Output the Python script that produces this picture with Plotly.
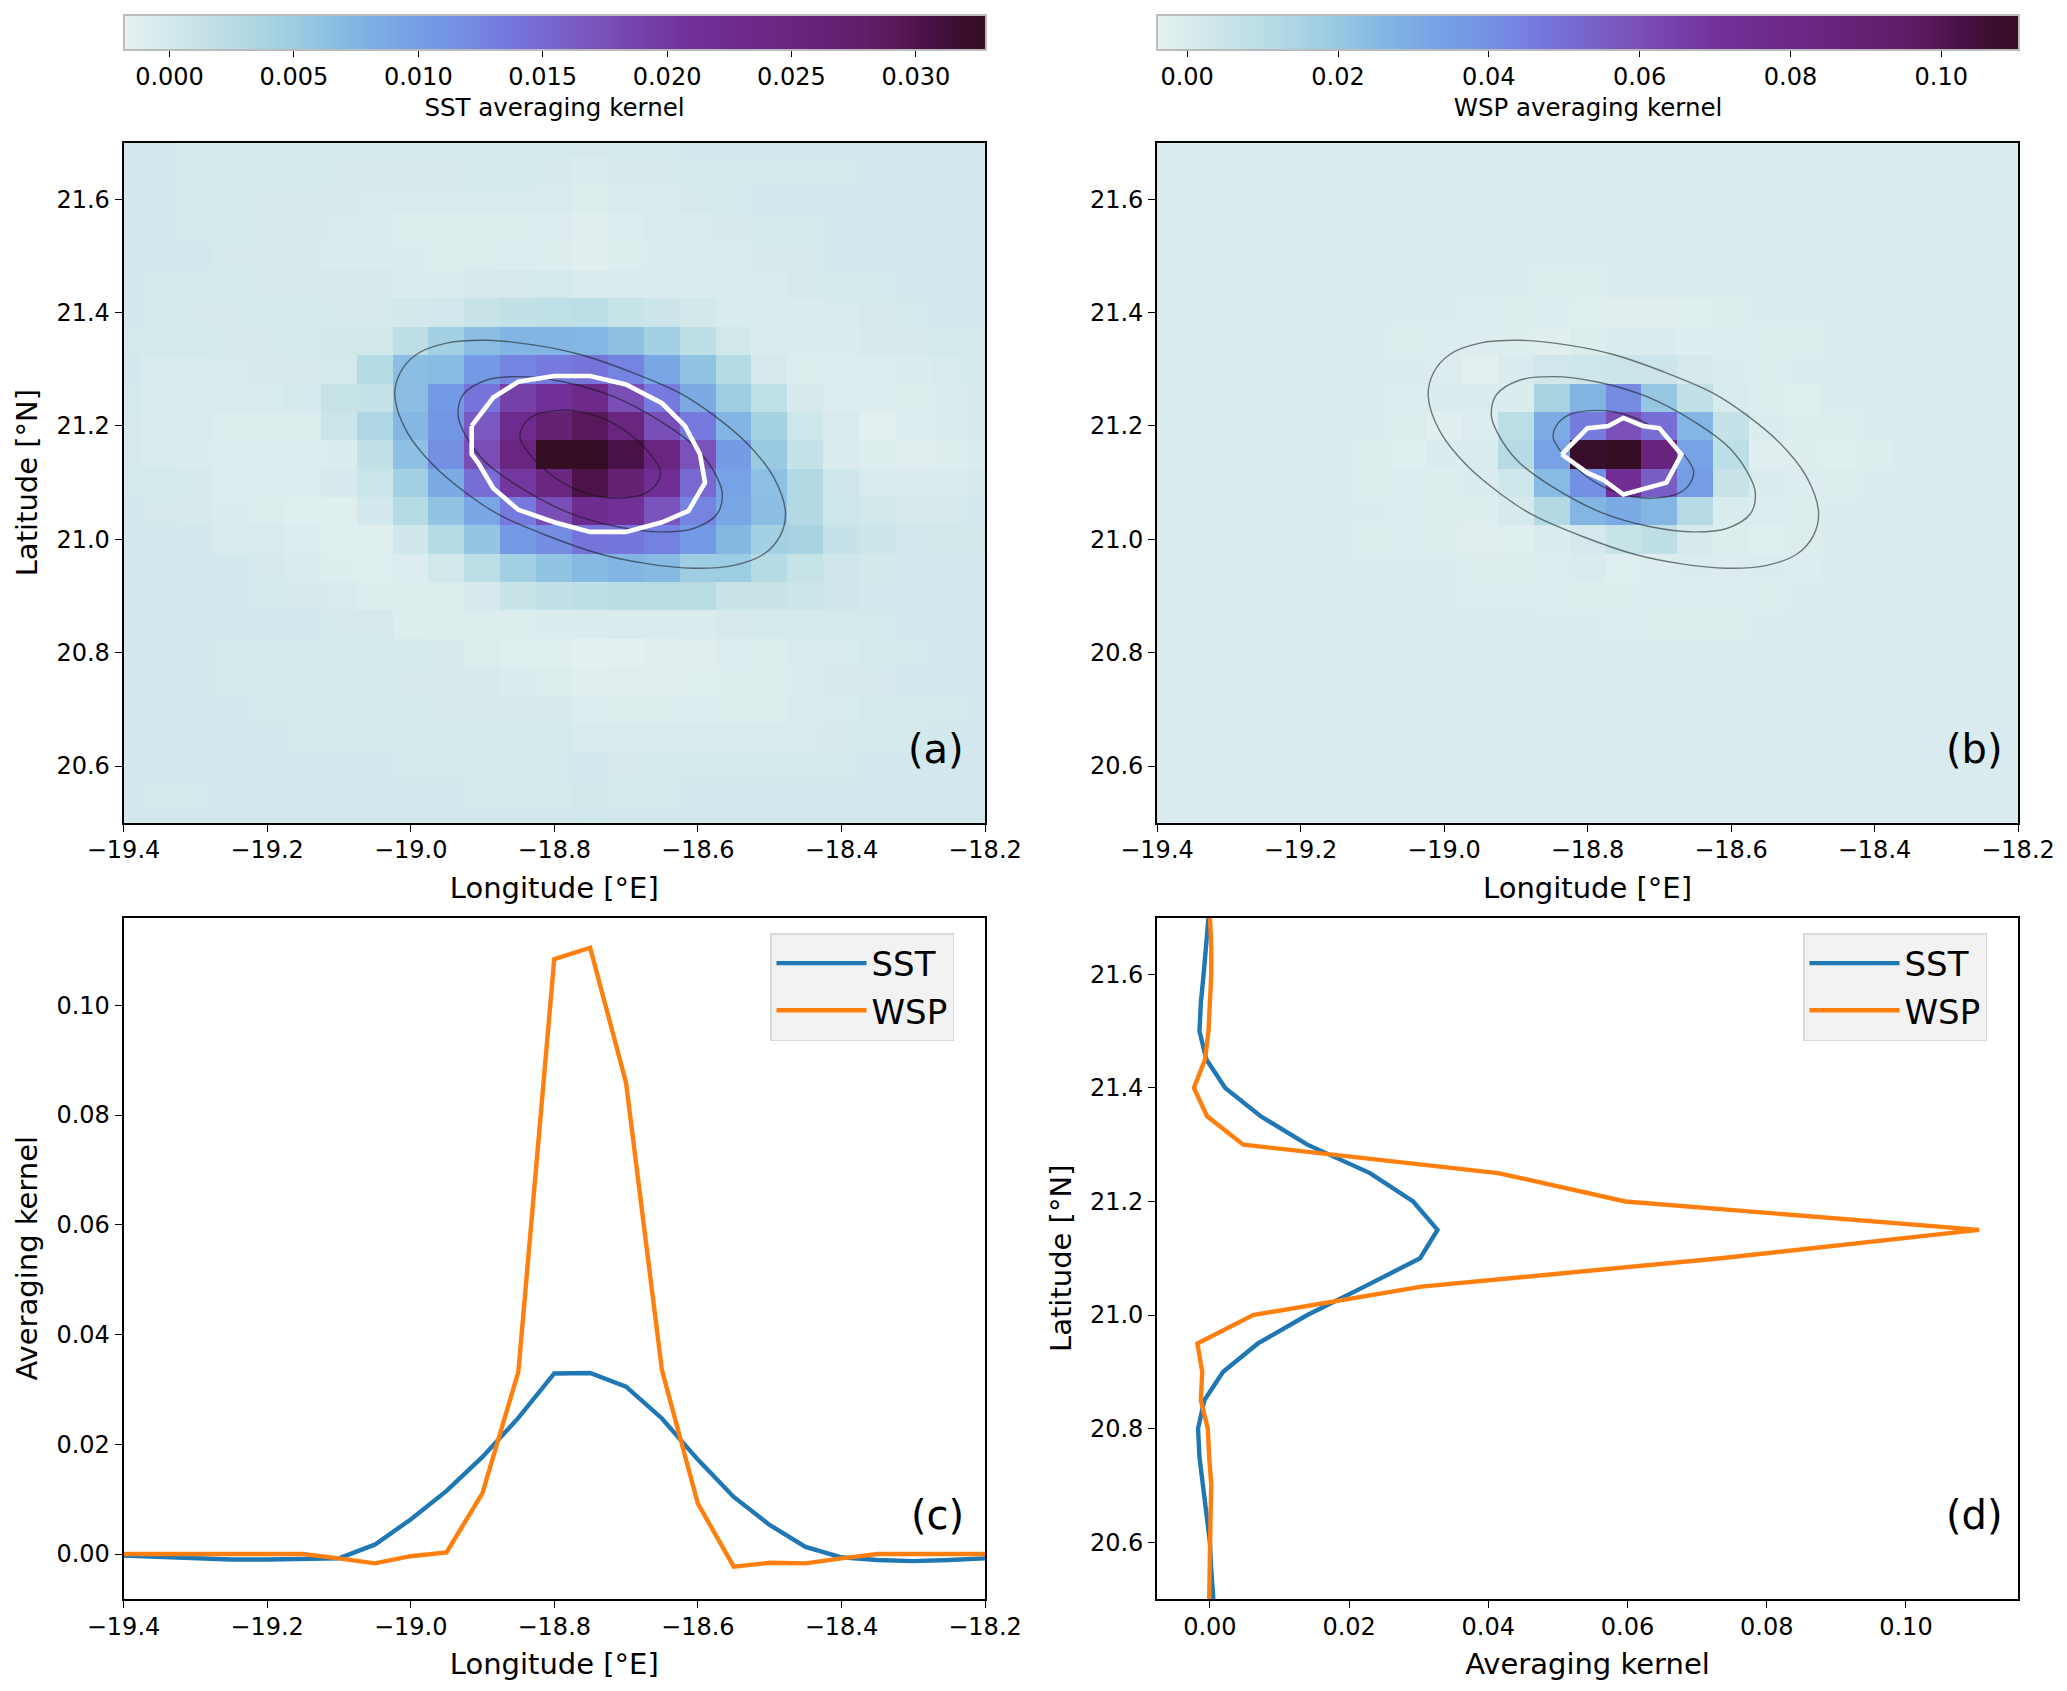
import plotly.graph_objects as go

W, H = 2067, 1691
PAGE_MARGIN = 8  # the page body offsets the figure by this many pixels
FW, FH = W - 2 * PAGE_MARGIN, H - 2 * PAGE_MARGIN

lon = [-19.4, -19.35, -19.3, -19.25, -19.2, -19.15, -19.1, -19.05, -19.0, -18.95, -18.9, -18.85, -18.8,
       -18.75, -18.7, -18.65, -18.6, -18.55, -18.5, -18.45, -18.4, -18.35, -18.3, -18.25, -18.2]
lat = [21.7, 21.65, 21.6, 21.55, 21.5, 21.45, 21.4, 21.35, 21.3, 21.25, 21.2, 21.15, 21.1,
       21.05, 21.0, 20.95, 20.9, 20.85, 20.8, 20.75, 20.7, 20.65, 20.6, 20.55, 20.5]

sst_kernel = [
 [0,0,-.0001,-.0001,-.0001,-.0001,-.0001,-.0001,-.0001,-.0001,-.0001,-.0001,-.0001,-.0002,-.0001,-.0001,0,0,0,0,0,0,0,0,0],
 [0,0,-.0001,-.0001,-.0001,-.0001,-.0003,-.0003,-.0003,-.0003,-.0001,-.0001,-.0003,-.0005,-.0003,-.0002,-.0001,-.0001,-.0001,-.0001,-.0001,0,0,0,0],
 [0,0,-.0001,-.0001,-.0003,-.0003,-.0003,-.0004,-.0004,-.0004,-.0004,-.0004,-.0005,-.0009,-.0006,-.0005,-.0002,-.0001,0,0,0,0,0,0,0],
 [0,0,-.0001,-.0001,-.0002,-.0003,-.0004,-.0004,-.0009,-.0009,-.0009,-.0009,-.001,-.0013,-.001,-.0004,-.0004,-.0003,-.0001,-.0001,0,0,0,0,0],
 [0,0,0,-.0003,-.0003,-.0003,-.0006,-.0007,-.0007,-.0009,-.0009,-.001,-.0011,-.0015,-.0009,-.0008,-.0008,-.0005,-.0003,-.0002,0,0,0,0,0],
 [0,-.0001,-.0001,-.0001,-.0002,-.0002,-.0002,-.0002,-.0008,-.0007,-.0003,-.0002,-.0001,-.0005,-.0004,-.0006,-.0007,-.0007,-.0006,-.0003,-.0001,-.0001,0,0,0],
 [0,-.0001,-.0003,-.0003,-.0001,-.0001,-.0003,-.0003,.0001,.0003,.001,.0017,.0018,.0022,.0012,.0007,.0001,-.0005,-.0007,-.0007,-.0004,-.0002,-.0001,0,0],
 [-.0001,-.0001,-.0001,-.0003,-.0003,-.0001,.0001,.0002,.002,.0045,.0065,.0075,.0075,.0073,.0062,.0045,.002,.0002,-.0006,-.0007,-.0007,-.0003,-.0002,-.0001,-.0001],
 [0,-.0004,-.0004,-.0004,-.0002,-.0002,-.0001,.0028,.0065,.0068,.0105,.0125,.0135,.014,.0125,.009,.006,.0028,-.0002,-.0009,-.001,-.001,-.0007,-.0004,-.0001],
 [-.0001,-.0004,-.0004,-.0005,-.0004,-.0001,.0012,.0014,.0065,.0105,.014,.019,.021,.023,.0175,.0135,.0085,.0048,.0018,-.0003,-.001,-.001,-.0009,-.0008,-.0003],
 [-.0002,-.0005,-.0005,-.0009,-.0009,-.0009,.0008,.0035,.0072,.0108,.0165,.0225,.0265,.0292,.025,.0175,.0135,.0075,.0042,.0006,-.0006,-.0016,-.001,-.0008,-.0003],
 [-.0003,-.0005,-.0008,-.001,-.001,-.001,-.0008,.0017,.0063,.0115,.0177,.0248,.0329,.033,.0305,.0247,.0172,.0104,.0053,.0013,-.0006,-.0011,-.0013,-.0011,-.0008],
 [-.0001,-.0001,-.0003,-.001,-.001,-.001,-.0003,.0008,.0045,.0085,.0145,.02,.0245,.0302,.0265,.0215,.015,.0095,.0063,.003,.0006,-.0004,-.0008,-.0006,-.0002],
 [0,-.0002,-.0003,-.0008,-.0009,-.0012,-.0012,0,.0028,.006,.009,.0135,.0175,.0222,.021,.017,.0125,.009,.0065,.003,.0006,.0002,-.0002,-.0002,0],
 [0,0,0,-.0006,-.0004,-.001,-.0012,-.0012,.0004,.0028,.0058,.0105,.0118,.014,.0138,.0128,.0105,.0072,.0045,.004,.0014,.0007,.0003,.0002,.0002],
 [0,0,0,0,-.0003,-.0006,-.0011,-.0012,-.001,.0002,.0022,.0045,.006,.0069,.0075,.007,.0048,.005,.0028,.0012,.0005,.0001,0,0,0],
 [0,0,0,0,-.0001,-.0003,-.0004,-.0009,-.0009,-.0009,-.0003,.001,.0016,.0019,.0025,.0025,.0024,.001,.001,.0007,.0004,0,0,0,0],
 [0,0,0,0,0,0,-.0002,-.0002,-.0009,-.0009,-.0009,-.0009,-.0007,-.0008,-.0006,-.0006,-.0005,-.0002,-.0001,-.0001,-.0001,-.0001,0,0,0],
 [0,0,0,-.0001,-.0001,-.0001,-.0001,-.0001,-.0001,-.0003,-.0009,-.0012,-.0012,-.0017,-.0017,-.0015,-.0013,-.001,-.0009,-.0005,-.0004,-.0001,-.0001,0,0],
 [0,0,0,-.0001,-.0001,-.0001,-.0001,-.0001,-.0002,-.0003,-.0003,-.0006,-.0009,-.0015,-.0013,-.0014,-.0012,-.0011,-.0009,-.0007,-.0003,-.0003,0,0,0],
 [0,0,0,0,-.0001,-.0001,-.0001,-.0001,-.0001,-.0002,-.0002,-.0002,-.0003,-.001,-.0009,-.0009,-.001,-.0009,-.0009,-.0006,-.0004,-.0001,-.0001,-.0001,0],
 [0,0,0,0,0,-.0001,-.0001,-.0001,-.0001,-.0001,-.0001,-.0001,-.0001,-.0005,-.0005,-.0005,-.0005,-.0005,-.0004,-.0004,-.0003,-.0001,-.0001,0,0],
 [0,0,0,0,0,0,0,0,-.0001,-.0001,-.0001,-.0001,-.0001,0,-.0002,-.0001,-.0001,-.0001,-.0001,-.0001,-.0001,0,0,0,0],
 [0,-.0001,-.0001,0,0,0,0,0,0,0,-.0001,-.0001,-.0001,.0002,-.0001,-.0001,0,0,0,0,0,0,0,0,0],
 [0,0,0,0,0,0,0,0,0,0,0,0,0,.0003,0,0,0,0,0,0,0,0,0,0,0],
]

wsp_kernel = [
 [0,0,0,0,0,0,0,0,0,0,0,0,0,0,0,0,0,0,0,0,0,0,0,0,0],
 [0,0,0,0,0,0,0,0,0,0,0,-.0001,-.0002,0,-.0002,-.0001,0,0,0,0,0,0,0,0,0],
 [0,0,0,0,0,0,0,0,0,0,-.0001,-.0001,-.0001,0,-.0001,-.0001,0,0,0,0,0,0,0,0,0],
 [0,0,0,0,-.0001,-.0001,-.0001,-.0001,-.0001,-.0001,-.0001,-.0001,-.0002,0,-.0002,-.0002,-.0001,-.0001,-.0001,-.0001,0,0,0,0,0],
 [0,0,0,-.0001,-.0002,-.0002,-.0002,-.0002,-.0002,-.0003,-.0004,-.0006,-.0006,-.0002,-.0003,-.0003,-.0003,-.0002,-.0001,-.0001,-.0001,-.0001,0,0,0],
 [0,0,-.0001,-.0002,-.0002,-.0002,-.0002,-.0002,-.0006,-.0006,-.0006,-.001,-.001,-.0007,-.0006,-.0006,-.0006,-.0002,-.0002,-.0001,-.0001,-.0001,0,0,0],
 [0,-.0001,-.0001,-.0001,-.0002,-.0003,-.0005,-.0005,-.0007,-.0012,-.001,-.0012,-.0018,-.0023,-.0022,-.0018,-.0008,-.0006,-.0002,-.0002,-.0001,-.0001,-.0001,0,0],
 [0,-.0001,-.0001,-.0001,-.0002,-.0003,-.0006,-.0008,-.0012,-.0012,-.0015,-.0028,-.0008,-.0004,-.0006,-.0014,-.0012,-.0015,-.0008,-.0002,-.0002,-.0002,-.0001,0,0],
 [0,0,-.0001,-.0002,-.0002,-.0003,-.0006,-.0006,-.0012,-.0032,.0002,.0028,.004,.0048,.0045,.0015,-.0003,-.001,-.0003,-.0003,-.0002,-.0002,-.0001,0,0],
 [0,0,0,-.0001,-.0002,-.0005,-.0005,-.0012,-.0006,-.0002,-.0001,.0154,.027,.0414,.021,.0075,.0005,-.001,-.0018,-.0005,-.0002,-.0002,-.0001,0,0],
 [0,0,0,0,-.0002,-.0002,-.0004,-.0008,-.0026,-.0012,.0097,.03,.046,.0595,.05,.0265,.0065,-.0002,-.0015,-.0008,-.0003,-.0001,0,0,0],
 [0,0,0,0,0,0,-.0008,-.0017,-.0004,.0003,.0111,.0332,.1084,.1105,.0859,.0335,.0092,-.0023,-.0016,-.0017,-.0008,0,0,0,0],
 [0,0,0,0,-.0002,-.0005,-.001,-.0012,-.0015,-.0005,.004,.0246,.04,.0734,.055,.036,.0055,-.0005,-.0012,-.001,-.0005,-.0002,0,0,0],
 [0,0,0,-.0001,-.0002,-.0005,-.0007,-.0012,-.0015,-.0015,.001,.012,.0265,.0304,.0265,.011,.0005,-.0012,-.0008,-.0003,-.0001,0,0,0,0],
 [0,0,0,-.0001,-.0002,-.0004,-.0008,-.0012,-.0015,-.002,-.0018,-.0003,.0015,.0062,.0085,.0012,-.0008,-.0018,-.001,-.0001,0,0,0,0,0],
 [0,0,0,0,-.0002,-.0002,-.0003,-.0005,-.0006,-.001,-.001,-.0012,.0002,-.0018,-.0012,-.0004,-.0012,-.0005,-.0012,0,0,0,0,0,0],
 [0,0,0,0,0,-.0001,-.0006,-.0006,-.0006,-.0012,-.0012,-.0012,-.0016,-.0011,-.0012,-.0012,-.0012,-.0016,-.0001,0,0,0,0,0,0],
 [0,0,0,0,0,0,0,0,0,0,0,-.0002,-.0001,-.0013,-.0008,-.0008,-.0008,-.0002,0,0,0,0,0,0,0],
 [0,0,0,0,0,0,0,0,-.0002,-.0002,-.0001,-.0001,-.0001,-.0003,-.0002,-.0002,-.0002,0,0,0,0,0,0,0,0],
 [0,0,0,0,0,0,0,0,0,-.0001,-.0001,0,0,-.0001,0,0,0,0,0,0,0,0,0,0,0],
 [0,0,0,0,0,0,0,0,0,0,0,0,0,0,0,0,0,0,0,0,0,0,0,0,0],
 [0,0,0,0,0,0,0,0,0,0,0,0,0,0,0,0,0,0,0,0,0,0,0,0,0],
 [0,0,0,0,0,0,0,0,0,0,0,0,0,0,0,0,0,0,0,0,0,0,0,0,0],
 [0,0,0,0,0,0,0,0,0,0,0,0,0,0,0,0,0,0,0,0,0,0,0,0,0],
 [0,0,0,0,0,0,0,0,0,0,0,0,0,0,0,0,0,0,0,0,0,0,0,0,0],
]

# Zonal section at 21.15 N
sst_section_lon = [-.0003,-.0005,-.0008,-.001,-.001,-.001,-.0008,.0017,.0063,.0115,.0177,.0248,.0329,.033,.0305,.0247,.0172,.0104,.0053,.0013,-.0006,-.0011,-.0013,-.0011,-.0008]
wsp_section_lon = [0,0,0,0,0,0,-.0008,-.0017,-.0004,.0003,.0111,.0332,.1084,.1105,.0859,.0335,.0092,-.0023,-.0016,-.0017,-.0008,0,0,0,0]
# Meridional section at -18.75 E
sst_section_lat = [-.0002,-.0005,-.0009,-.0013,-.0015,-.0005,.0022,.0073,.014,.023,.0292,.0327,.0302,.0222,.014,.0069,.0019,-.0008,-.0017,-.0015,-.001,-.0005,0,.0002,.0005]
wsp_section_lat = [0,.0002,.0002,0,-.0002,-.0007,-.0023,-.0004,.0048,.0414,.0597,.1105,.0734,.0304,.0062,-.0018,-.0011,-.0013,-.0003,-.0001,.0002,.0001,0,0,-.0001]

ell_outer_lon = [-19.022,-19.015,-18.992,-18.950,-18.894,-18.829,-18.764,-18.695,-18.625,-18.579,-18.532,-18.495,-18.478,-18.485,-18.508,-18.550,-18.606,-18.671,-18.736,-18.805,-18.875,-18.921,-18.968,-19.005,-19.022]
ell_outer_lat = [21.252,21.293,21.326,21.346,21.351,21.343,21.326,21.296,21.258,21.220,21.170,21.111,21.048,21.007,20.974,20.954,20.949,20.957,20.974,21.004,21.042,21.080,21.130,21.189,21.252]
ell_mid_lon = [-18.934,-18.927,-18.894,-18.848,-18.788,-18.718,-18.648,-18.602,-18.574,-18.566,-18.573,-18.606,-18.652,-18.712,-18.782,-18.852,-18.898,-18.926,-18.934]
ell_mid_lat = [21.219,21.255,21.281,21.287,21.278,21.252,21.205,21.161,21.111,21.081,21.045,21.019,21.013,21.022,21.048,21.095,21.139,21.189,21.219]
ell_in_lon = [-18.848,-18.841,-18.825,-18.797,-18.764,-18.723,-18.685,-18.66,-18.652,-18.659,-18.675,-18.703,-18.736,-18.777,-18.815,-18.84,-18.848]
ell_in_lat = [21.181,21.205,21.220,21.227,21.225,21.208,21.175,21.14,21.119,21.095,21.08,21.073,21.075,21.092,21.125,21.16,21.181]

white_sst_lon = [-18.915,-18.885,-18.85,-18.80,-18.75,-18.70,-18.65,-18.618,-18.597,-18.59,-18.613,-18.65,-18.70,-18.75,-18.80,-18.85,-18.885,-18.906,-18.915,-18.915]
white_sst_lat = [21.2,21.25,21.278,21.288,21.288,21.273,21.24,21.2,21.15,21.10,21.05,21.03,21.013,21.013,21.03,21.052,21.09,21.135,21.15,21.2]
white_wsp_lon = [-18.836,-18.80,-18.771,-18.75,-18.723,-18.70,-18.669,-18.69,-18.75,-18.778,-18.80,-18.836]
white_wsp_lat = [21.15,21.196,21.2,21.214,21.2,21.196,21.15,21.10,21.079,21.105,21.117,21.15]

lat_ticks = [20.6, 20.8, 21.0, 21.2, 21.4, 21.6]
lon_ticks = [-19.4, -19.2, -19.0, -18.8, -18.6, -18.4, -18.2]
kernel_ticks = [0.0, 0.02, 0.04, 0.06, 0.08, 0.10]
sst_cb_ticks = [0.0, 0.005, 0.01, 0.015, 0.02, 0.025, 0.03]

dense = [[0, '#e6f1f1'], [.1, '#c2e1e7'], [.17, '#a8d4e2'], [.2, '#9ccce2'], [.26, '#84b8e3'], [.32, '#78a4e5'],
         [.37, '#7496e5'], [.45, '#7676dd'], [.55, '#7a52ba'], [.65, '#72309a'], [.77, '#6a2580'], [.85, '#621e6c'],
         [.9, '#581858'], [.93, '#4a1248'], [.97, '#3c0e2e'], [1, '#360e24']]

FONT = 'DejaVu Sans'
BLUE, ORANGE = '#1f77b4', '#ff7f0e'
L1, R1, L2, R2 = 123.5, 985.0, 1157.0, 2018.0
T1, B1, T2, B2 = 142.5, 822.7, 917.5, 1599.0
CB_T = 15.0

def fx(px): return (px - PAGE_MARGIN) / FW
def fy(py): return 1 - (py - PAGE_MARGIN) / FH
def xd(a, b): return [fx(a), fx(b)]
def yd(t, b): return [fy(b), fy(t)]

fig = go.Figure()

def colorbar(left, title, ticks, fmt):
    return dict(orientation='h', x=fx(left), xanchor='left', xref='paper', y=fy(CB_T), yanchor='top', yref='paper',
                len=861.5 / FW, lenmode='fraction', thickness=35, thicknessmode='pixels', xpad=0, ypad=0,
                outlinecolor='#bbbbbb', outlinewidth=2, ticks='outside', ticklen=6, tickwidth=1.3, tickcolor='black',
                tickvals=ticks, tickformat=fmt, tickfont=dict(family=FONT, size=24, color='black'),
                title=dict(text=title, side='bottom', font=dict(family=FONT, size=24.5, color='black')))

fig.add_trace(go.Heatmap(x=lon, y=lat, z=sst_kernel, colorscale=dense, zmin=-0.00185, zmax=0.0328, xaxis='x', yaxis='y',
                         colorbar=colorbar(L1, 'SST averaging kernel', sst_cb_ticks, '.3f')))
fig.add_trace(go.Heatmap(x=lon, y=lat, z=wsp_kernel, colorscale=dense, zmin=-0.004, zmax=0.1103, xaxis='x2', yaxis='y2',
                         colorbar=colorbar(L2, 'WSP averaging kernel', kernel_ticks, '.2f')))

for xa, ya, wx, wy in (('x', 'y', white_sst_lon, white_sst_lat), ('x2', 'y2', white_wsp_lon, white_wsp_lat)):
    for ex, ey in ((ell_outer_lon, ell_outer_lat), (ell_mid_lon, ell_mid_lat), (ell_in_lon, ell_in_lat)):
        fig.add_trace(go.Scatter(x=ex, y=ey, mode='lines', xaxis=xa, yaxis=ya, showlegend=False, hoverinfo='skip',
                                 line=dict(color='rgba(20,20,20,0.55)', width=1.4, shape='spline', smoothing=1)))
    fig.add_trace(go.Scatter(x=wx, y=wy, mode='lines', xaxis=xa, yaxis=ya, showlegend=False, hoverinfo='skip',
                             line=dict(color='white', width=4.6)))

for xs, ys, nm, col, xa, ya, lg in (
        (lon, sst_section_lon, 'SST', BLUE, 'x3', 'y3', 'legend'),
        (lon, wsp_section_lon, 'WSP', ORANGE, 'x3', 'y3', 'legend'),
        (sst_section_lat, lat, 'SST', BLUE, 'x4', 'y4', 'legend2'),
        (wsp_section_lat, lat, 'WSP', ORANGE, 'x4', 'y4', 'legend2')):
    fig.add_trace(go.Scatter(x=xs, y=ys, mode='lines', name=nm, xaxis=xa, yaxis=ya, legend=lg, legendgroup=nm,
                             line=dict(color=col, width=4.4)))

def axis(domain, rng, ticks, fmt, title, anchor, standoff, label_shift=0):
    return dict(domain=domain, range=rng, tickvals=ticks, tickformat=fmt, anchor=anchor, showgrid=False, zeroline=False,
                automargin=False, ticklabelstandoff=label_shift,
                showline=True, mirror=True, linecolor='black', linewidth=1.6, ticks='outside', ticklen=7, tickwidth=1.3,
                tickcolor='black', tickfont=dict(family=FONT, size=24, color='black'),
                title=dict(text=title, standoff=standoff, font=dict(family=FONT, size=29, color='black')))

LON_T, LAT_T, KER_T = 'Longitude [°E]', 'Latitude [°N]', 'Averaging kernel'
lon_r, lat_r = [-19.4, -18.2], [20.5, 21.7]

def legend(px):
    return dict(x=fx(px), xanchor='left', y=fy(933), yanchor='top', bgcolor='#f2f2f2', bordercolor='#d9d9d9',
                borderwidth=1.5, itemwidth=90, entrywidth=100, entrywidthmode='pixels', tracegroupgap=6,
                font=dict(family=FONT, size=34, color='black'), traceorder='normal', groupclick='toggleitem')

def tag(txt, right, cy):
    return dict(text=txt, x=fx(right), y=fy(cy), xref='paper', yref='paper', xanchor='right', yanchor='middle',
                showarrow=False, font=dict(family=FONT, size=40, color='black'))

fig.update_layout(
    width=FW, height=FH, autosize=False, margin=dict(l=0, r=0, t=0, b=0, pad=0, autoexpand=False),
    paper_bgcolor='white', plot_bgcolor='white',
    font=dict(family=FONT, color='black'),
    xaxis=axis(xd(L1, R1), lon_r, lon_ticks, '.1f', LON_T, 'y', 14, -2),
    yaxis=axis(yd(T1, B1), lat_r, lat_ticks, '.1f', LAT_T, 'x', 10),
    xaxis2=axis(xd(L2, R2), lon_r, lon_ticks, '.1f', LON_T, 'y2', 14, -2),
    yaxis2=axis(yd(T1, B1), lat_r, lat_ticks, '.1f', '', 'x2', 10),
    xaxis3=axis(xd(L1, R1), lon_r, lon_ticks, '.1f', LON_T, 'y3', 14, -2),
    yaxis3=axis(yd(T2, B2), [-0.0082, 0.116], kernel_ticks, '.2f', KER_T, 'x3', 10),
    xaxis4=axis(xd(L2, R2), [-0.0076, 0.1161], kernel_ticks, '.2f', KER_T, 'y4', 14, -2),
    yaxis4=axis(yd(T2, B2), lat_r, lat_ticks, '.1f', LAT_T, 'x4', 10),
    legend=legend(770), legend2=legend(1803),
    annotations=[tag('(a)', 966, 749), tag('(b)', 2005, 749), tag('(c)', 966, 1515), tag('(d)', 2005, 1515)],
)

fig.write_html('out.html')
